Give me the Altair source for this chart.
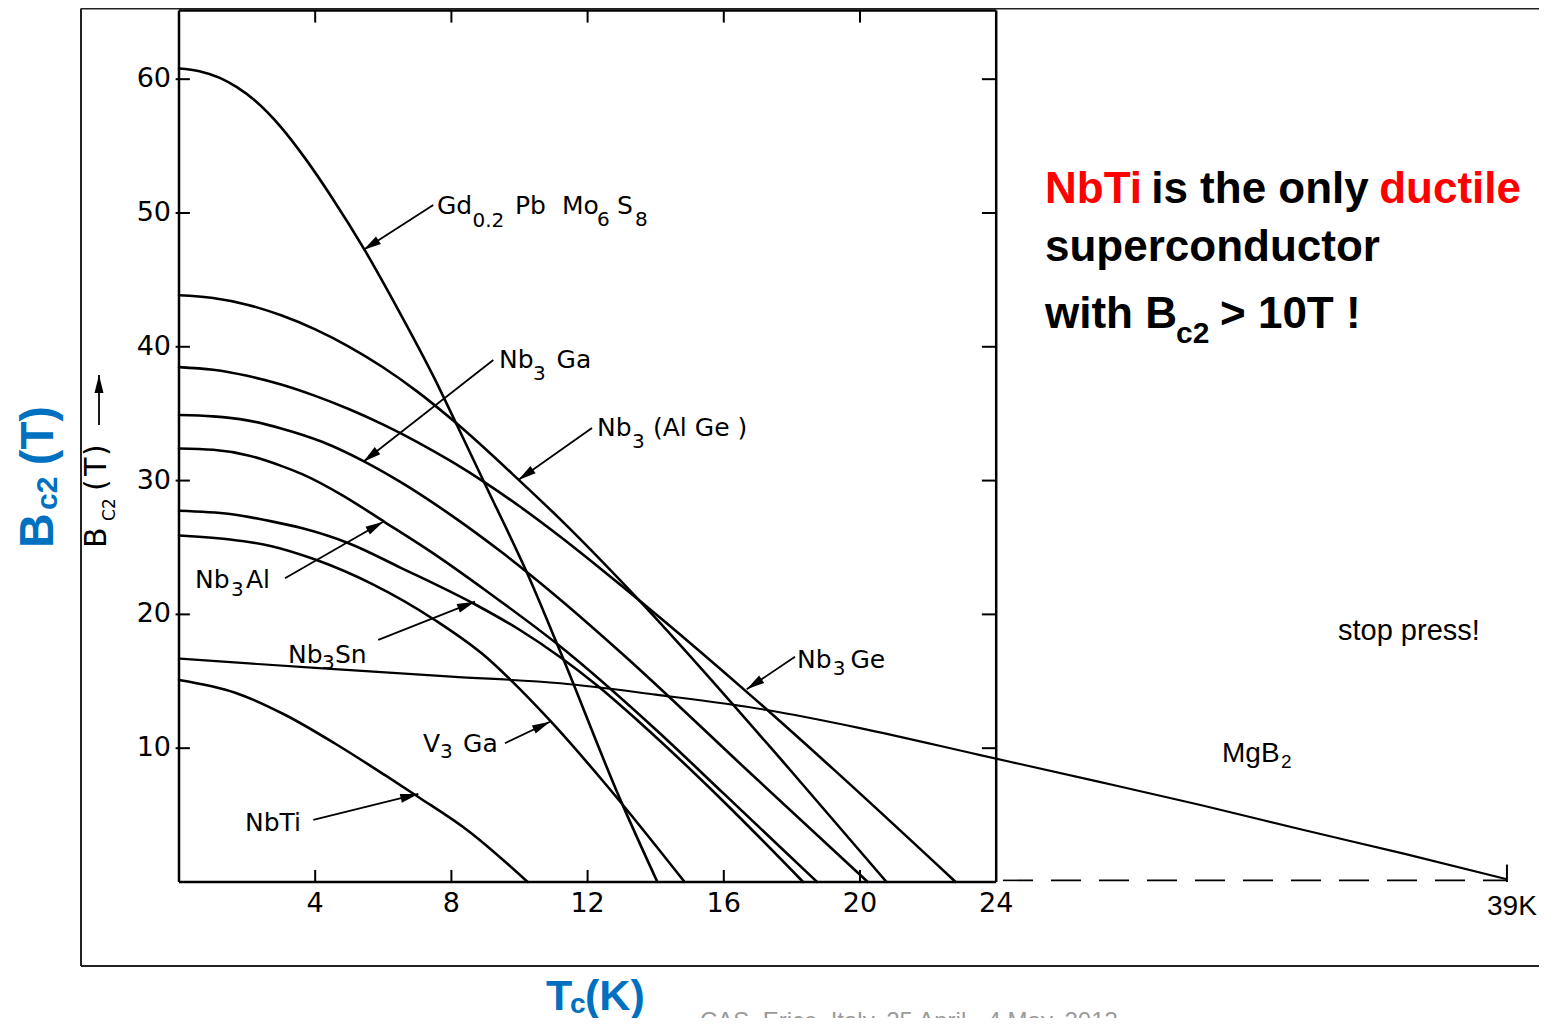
import math
import altair as alt
import pandas as pd

# ---------------- plot-area geometry ----------------
W, H = 1458, 958
KPX, TPX = 34.05, 13.38            # pixels per kelvin / per tesla
XMIN = -2.878
XMAX = XMIN + W / KPX
YMAX = 65.32
YMIN = YMAX - H / TPX
BOX_TOP = 65.13                    # top of the inner (original) figure box
XS = alt.Scale(domain=[XMIN, XMAX], nice=False, zero=False)
YS = alt.Scale(domain=[YMIN, YMAX], nice=False, zero=False)

# ---------------- data ----------------
GD_T = [0, 0.6, 1.2, 1.7, 2.23, 3.0, 3.7, 4.48, 5.46, 6.43, 7.51, 8.19, 9.07, 10.24, 11.2, 12.97, 14.05]
GD_B = [60.8, 60.6, 60.1, 59.4, 58.4, 56.4, 54.1, 51.2, 47.2, 42.8, 37.6, 34.0, 29.3, 23.0, 17.2, 6.1, 0]

NB3ALGE_T = [0, 1, 2, 3, 4, 5, 6, 7, 8.14, 10.0, 11.2, 13.46, 17.95, 20.78]
NB3ALGE_B = [43.85, 43.65, 43.15, 42.35, 41.3, 40.0, 38.45, 36.65, 34.3, 30.0, 27.1, 21.2, 8.37, 0]

NB3GE_T = [0, 1, 2, 3, 4, 5, 6, 7, 8, 9, 10, 11.2, 12.5, 14.14, 16.68, 19.2, 22.81]
NB3GE_B = [38.48, 38.28, 37.83, 37.18, 36.33, 35.33, 34.18, 32.88, 31.43, 29.83, 28.08, 25.8, 23.17, 19.73, 14.19, 8.47, 0]

NB3GA_T = [0, 1, 2, 3, 4.2, 5.46, 6.5, 8, 9.5, 11.2, 13, 16.68, 20.23]
NB3GA_B = [34.9, 34.8, 34.5, 33.9, 32.9, 31.4, 29.9, 27.4, 24.6, 21.1, 17.1, 8.37, 0]

NB3AL_T = [0, 1, 2, 3, 3.6, 4.8, 6.04, 7.5, 9, 11.2, 14, 16, 18.74]
NB3AL_B = [32.4, 32.3, 31.9, 31.1, 30.5, 28.9, 26.9, 24.5, 21.8, 17.6, 11.4, 6.6, 0]

NB3SN_T = [0, 1.5, 2.72, 3.6, 5, 6.5, 8.73, 10, 11.2, 12.3, 13.5, 16, 18.33]
NB3SN_B = [27.75, 27.5, 26.95, 26.45, 25.3, 23.5, 20.7, 18.85, 16.8, 14.65, 12.0, 6.0, 0]

V3GA_T = [0, 1.5, 2.72, 4, 5.65, 7.5, 9.07, 9.7, 10.92, 12.5, 14.85]
V3GA_B = [25.9, 25.6, 25.1, 24.1, 22.3, 19.6, 16.7, 15.2, 12.0, 7.4, 0]

NBTI_T = [0, 1.65, 3.11, 4.58, 6.04, 7.03, 8.48, 10.24]
NBTI_B = [15.1, 14.15, 12.5, 10.35, 8.0, 6.35, 3.85, 0]

MGB2_T = [0, 4, 8, 11.2, 14, 17.27, 20, 23.5, 27, 30, 33, 36, 39]
MGB2_B = [16.7, 16.0, 15.35, 14.85, 14.0, 12.85, 11.5, 9.5, 7.5, 5.75, 3.9, 2.1, 0.2]

X_TICKS = [4, 8, 12, 16, 20, 24]
Y_TICKS = [10, 20, 30, 40, 50, 60]

# arrows: (tail T, tail B, tip T, tip B)
ARROWS = [
    (7.468, 50.60, 5.413, 47.23),    # Gd0.2PbMo6S8
    (9.231, 39.01, 5.413, 31.41),    # Nb3Ga
    (12.129, 33.93, 9.965, 30.04),   # Nb3(AlGe)
    (3.113, 22.70, 6.00, 26.93),     # Nb3Al
    (5.853, 18.09, 8.693, 20.95),    # Nb3Sn
    (9.574, 10.37, 10.896, 11.98),   # V3Ga
    (3.944, 4.634, 7.028, 6.577),    # NbTi
    (18.091, 16.84, 16.673, 14.40),  # Nb3Ge
    (-2.349, 34.16, -2.349, 37.89),  # axis arrow
]

# figure labels (text, T, B, size)
FIG_LABELS = [
    ("Gd", 7.577, 49.93, 25), ("0.2", 8.62, 48.95, 20), ("Pb", 9.868, 49.93, 25),
    ("Mo", 11.248, 49.93, 25), ("6", 12.276, 49.03, 20), ("S", 12.863, 49.93, 25),
    ("8", 13.392, 49.03, 20),
    ("Nb", 9.398, 38.38, 25), ("3", 10.396, 37.48, 20), ("Ga", 11.087, 38.38, 25),
    ("Nb", 12.276, 33.30, 25), ("3", 13.304, 32.44, 20), ("(Al Ge )", 13.921, 33.30, 25),
    ("Nb", 0.470, 21.97, 25), ("3", 1.527, 21.38, 20), ("Al", 1.968, 21.97, 25),
    ("Nb", 3.201, 16.37, 25), ("3", 4.200, 15.92, 20), ("Sn", 4.581, 16.37, 25),
    ("V", 7.166, 9.716, 25), ("3", 7.665, 9.268, 20), ("Ga", 8.341, 9.716, 25),
    ("NbTi", 1.938, 3.774, 25),
    ("Nb", 18.150, 15.99, 25), ("3", 19.200, 15.47, 20), ("Ge", 19.720, 15.99, 25),
]
AXIS_LABEL_ROT = [
    ("B", -2.144, 24.96, 30), ("C2", -1.88, 26.98, 17),
    ("(", -2.144, 29.22, 30), ("T", -2.144, 30.34, 30), (")", -2.144, 31.84, 30),
]
SANS_LABELS = [
    ("stop press!", 34.038, 18.09, 29), ("MgB", 30.632, 8.969, 28),
    ("2", 32.364, 8.52, 19), ("39K", 38.414, -2.466, 28),
]
# slide text
RED, BLACK, BLUE = "#ff0000", "#000000", "#0070c0"
BIG_LEFT = [
    ("NbTi", 25.433, 50.747, 44, RED), ("superconductor", 25.433, 46.413, 44, BLACK),
    ("with B", 25.433, 41.405, 44, BLACK), ("c2", 29.28, 40.284, 30, BLACK),
    ("> 10T !", 30.573, 41.405, 44, BLACK),
]
BIG_CENTER = [("is the only", 31.747, 50.747, 44, BLACK)]
BIG_RIGHT = [("ductile", 39.413, 50.747, 44, RED)]
BLUE_ROT = [("B", -3.70, 24.96, 48), ("c2", -3.583, 27.80, 30), ("(T)", -3.70, 31.17, 46)]
BLUE_HOR = [("T", 10.778, -9.57, 43), ("c", 11.48, -9.80, 28), ("(K)", 11.924, -9.57, 43)]
FOOTER = [("CAS, Erice, Italy, 25 April - 4 May, 2013", 15.30, -11.0, 24)]

FIG_FONT = "DejaVu Sans"
SANS = "Liberation Sans, Arial, sans-serif"


def xenc(f="x"):
    return alt.X(f"{f}:Q", scale=XS, axis=None)


def yenc(f="y"):
    return alt.Y(f"{f}:Q", scale=YS, axis=None)


def rules(rows, **kw):
    df = pd.DataFrame(rows, columns=["x", "x2", "y", "y2"])
    return alt.Chart(df).mark_rule(**kw).encode(
        x=xenc(), x2="x2:Q", y=yenc(), y2="y2:Q")


def texts(rows, with_color=False, **kw):
    cols = ["t", "x", "y", "s"] + (["c"] if with_color else [])
    df = pd.DataFrame(rows, columns=cols)
    enc = dict(x=xenc(), y=yenc(), text="t:N", size=alt.Size("s:Q", scale=None))
    if with_color:
        enc["color"] = alt.Color("c:N", scale=None)
    return alt.Chart(df).mark_text(**kw).encode(**enc)


# ---------------- frames and ticks ----------------
outer = rules([
    (XMIN, XMIN, YMIN, 65.28),
    (XMIN, XMAX + 1, YMIN, YMIN),
    (XMIN, XMAX + 1, 65.28, 65.28),
], color="#222222", strokeWidth=2)

inner = rules([
    (0, 0, 0, BOX_TOP), (24, 24, 0, BOX_TOP),
    (0, 24, BOX_TOP, BOX_TOP), (0, 24, 0, 0),
], color="black", strokeWidth=2.5)

tick_rows = []
for t in X_TICKS[:-1]:
    tick_rows.append((t, t, 0, 0.9))
    tick_rows.append((t, t, BOX_TOP - 0.9, BOX_TOP))
for v in Y_TICKS:
    tick_rows.append((-0.1, 0.32, v, v))
    tick_rows.append((24 - 0.42, 24, v, v))
tick_rows.append((39, 39, 0, 1.3))
ticks = rules(tick_rows, color="black", strokeWidth=2)

dashed = rules([(24.2, 39, 0.12, 0.12)], color="black", strokeWidth=1.6,
               strokeDash=[30, 18])

# ---------------- curves ----------------
series = {
    "Gd0.2PbMo6S8": (GD_T, GD_B), "Nb3(AlGe)": (NB3ALGE_T, NB3ALGE_B),
    "Nb3Ge": (NB3GE_T, NB3GE_B), "Nb3Ga": (NB3GA_T, NB3GA_B),
    "Nb3Al": (NB3AL_T, NB3AL_B), "Nb3Sn": (NB3SN_T, NB3SN_B),
    "V3Ga": (V3GA_T, V3GA_B), "NbTi": (NBTI_T, NBTI_B),
}
rows = []
for name, (ts, bs) in series.items():
    for i, (t, b) in enumerate(zip(ts, bs)):
        rows.append({"name": name, "x": t, "y": b, "i": i})
curves = alt.Chart(pd.DataFrame(rows)).mark_line(
    color="black", strokeWidth=2.6, interpolate="monotone", strokeCap="round"
).encode(x=xenc(), y=yenc(), detail="name:N", order="i:Q")

mg = pd.DataFrame({"x": MGB2_T, "y": MGB2_B, "i": range(len(MGB2_T))})
mgb2 = alt.Chart(mg).mark_line(color="black", strokeWidth=2.1,
                               interpolate="monotone").encode(
    x=xenc(), y=yenc(), order="i:Q")

# ---------------- arrows ----------------
arrow_lines = rules([(a[0], a[2], a[1], a[3]) for a in ARROWS],
                    color="black", strokeWidth=1.8)
heads = []
for tx, ty, hx, hy in ARROWS:
    dxp = (hx - tx) * KPX
    dyp = -(hy - ty) * TPX
    ang = math.degrees(math.atan2(dxp, -dyp)) % 360
    heads.append({"x": hx, "y": hy, "a": ang})
arrow_heads = alt.Chart(pd.DataFrame(heads)).mark_point(
    shape="M0,0L0.5,2L-0.5,2Z", filled=True, size=324, color="black", opacity=1
).encode(x=xenc(), y=yenc(), angle=alt.Angle("a:Q", scale=None))

# ---------------- texts ----------------
fig_labels = texts(FIG_LABELS, font=FIG_FONT, align="left", baseline="alphabetic",
                   color="black")
axis_rot = texts(AXIS_LABEL_ROT, font=FIG_FONT, align="left", baseline="alphabetic",
                 angle=270, color="black")
ytick_lab = texts([(str(v), -0.235, v, 27) for v in Y_TICKS], font=FIG_FONT,
                  align="right", baseline="middle", color="black")
xtick_lab = texts([(str(v), v, -2.242, 27) for v in X_TICKS], font=FIG_FONT,
                  align="center", baseline="alphabetic", color="black")
sans_labels = texts(SANS_LABELS, font=SANS, align="left", baseline="alphabetic",
                    color="black")

big_l = texts(BIG_LEFT, with_color=True, font=SANS, fontWeight="bold",
              align="left", baseline="alphabetic")
big_c = texts(BIG_CENTER, with_color=True, font=SANS, fontWeight="bold",
              align="center", baseline="alphabetic")
big_r = texts(BIG_RIGHT, with_color=True, font=SANS, fontWeight="bold",
              align="right", baseline="alphabetic")

blue_rot = texts(BLUE_ROT, font=SANS, fontWeight="bold", align="left",
                 baseline="alphabetic", angle=270, color=BLUE)
blue_hor = texts(BLUE_HOR, font=SANS, fontWeight="bold", align="left",
                 baseline="alphabetic", color=BLUE)
footer = texts(FOOTER, font=SANS, align="left", baseline="alphabetic",
               color="#9a9a9a")

chart = alt.layer(
    outer, inner, ticks, dashed, curves, mgb2, arrow_lines, arrow_heads,
    fig_labels, axis_rot, ytick_lab, xtick_lab, sans_labels,
    big_l, big_c, big_r, blue_rot, blue_hor, footer,
).properties(
    width=W, height=H,
    padding={"left": 73, "top": 0, "right": 0, "bottom": 52},
    autosize=alt.AutoSizeParams(type="none"),
    background="white",
).configure_view(stroke=None)

chart.save("out.html", embed_options={"renderer": "svg", "actions": False})
